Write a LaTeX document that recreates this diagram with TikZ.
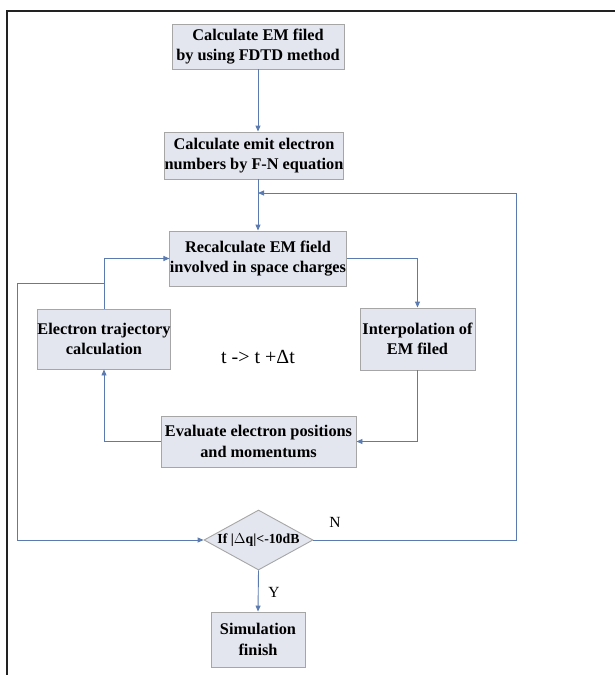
\documentclass[tikz,border=0pt]{standalone}
\usepackage{fontspec}
\setmainfont{Liberation Serif}
\usetikzlibrary{arrows.meta,shapes.geometric}
\definecolor{boxfill}{HTML}{E3E6EF}
\definecolor{boxline}{HTML}{A6A6A6}
\definecolor{conn}{HTML}{5B7BB0}
\definecolor{framec}{HTML}{222222}
\begin{document}
\begin{tikzpicture}[x=1pt,y=-1pt,
  stepbox/.style={draw=boxline,fill=boxfill,line width=0.9pt,rectangle,inner sep=0pt,align=center,
    font=\fontsize{16.3}{20.5}\selectfont\bfseries},
  decide/.style={draw=boxline,fill=boxfill,line width=0.9pt,diamond,inner sep=0pt,
    font=\fontsize{13.8}{16}\selectfont\bfseries},
  conline/.style={draw=conn,line width=0.9pt},
  conarrow/.style={conline,-{Triangle[length=6pt,width=5pt]}},
  lbl/.style={font=\fontsize{15.5}{18}\selectfont,inner sep=0pt}
]
\useasboundingbox (0,0) rectangle (614,675);
\draw[framec,line width=2pt] (6.5,676) -- (6.5,11) -- (615,11);

\node[stepbox,minimum width=172pt,minimum height=45pt] (b1) at (258,46.5) {Calculate EM filed\\by using FDTD method};
\node[stepbox,minimum width=172pt,minimum height=47pt] (b2) at (254,155.5) {Calculate emit electron\\numbers by F-N equation};
\node[stepbox,minimum width=172pt,minimum height=55pt] (b3) at (258,258.5) {Recalculate EM field\\involved in space charges};
\node[stepbox,minimum width=132pt,minimum height=60pt] (tr) at (104,339) {Electron trajectory\\calculation};
\node[stepbox,minimum width=115pt,minimum height=62pt] (ip) at (417.5,339) {Interpolation of\\EM filed};
\node[stepbox,minimum width=195pt,minimum height=51pt] (ev) at (258.5,441.5) {Evaluate electron positions\\and momentums};
\node[decide,minimum width=109pt,minimum height=60pt,aspect=1.8] (dq) at (258.5,540) {If |$\Delta$q|<-10dB};
\node[stepbox,minimum width=94pt,minimum height=55pt] (sf) at (258,639.5) {Simulation\\finish};

\node[font=\fontsize{20}{24}\selectfont,inner sep=0pt] (tt) at (258,357) {t -> t +Δt};
\node[lbl] (nl) at (335,522) {N};
\node[lbl] (yl) at (274,592) {Y};

\coordinate (j1) at (258,193);
\coordinate (rr) at (516,540);
\coordinate (rt) at (516,193);
\coordinate (ll) at (17,283);
\coordinate (lb) at (17,540);
\coordinate (lt) at (104,283);

\draw[conarrow] (b1.south) -- (b1.south |- b2.north);
\draw[conarrow] (b1.south |- b2.south) -- (b1.south |- b3.north);
\draw[conarrow] (dq.east) -- (rr) -- (rt) -- (j1);
\draw[conarrow] (tr.north) |- (b3.west);
\draw[conarrow] (b3.east) -| (ip.north);
\draw[conarrow] (ip.south) |- (ev.east);
\draw[conarrow] (ev.west) -| (tr.south);
\draw[conarrow] (lt) -- (ll) -- (lb) -- (dq.west);
\draw[conarrow] (dq.south) -- (sf.north);
\end{tikzpicture}
\end{document}
